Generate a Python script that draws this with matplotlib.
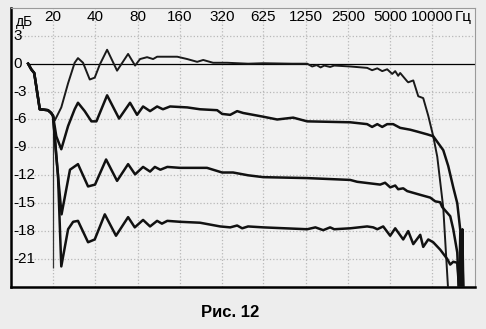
import matplotlib
matplotlib.use("Agg")
import matplotlib.pyplot as plt

plt.rcParams['font.family'] = ['Liberation Sans', 'DejaVu Sans']

# common start of all curves (Hz, dB)
start_f = [13.3, 14.0, 14.7, 16.1, 18.4, 19.4, 20.0]
start_db = [0.0, -0.6, -1.0, -4.9, -5.0, -5.3, -5.6]

# 0 dB curve
t_f = [20.6, 22.9, 25.6, 28.5, 30.1, 32.7, 36.5, 39.6, 43.0, 48.5, 57.1, 68.4, 76.7,
       83.2, 93.3, 103, 110, 130, 153, 180, 212, 234, 275, 346, 488, 625, 1000, 1284,
       1394, 1500, 1600, 1700, 1870, 2000, 2600, 3430, 3720, 4050, 4390, 4760, 5170,
       5430, 5700, 5890, 6610, 6720, 7300, 7920, 8590, 9330, 10120, 10810, 11930, 13000]
t_db = [-6.1, -4.7, -2.1, 0.1, 0.6, 0.1, -1.7, -1.5, -0.1, 1.5, -0.75, 1.05, -0.2,
        0.5, 0.7, 0.5, 0.75, 0.75, 0.75, 0.5, 0.2, 0.4, 0.1, 0.1, 0.0, 0.05, 0.0, 0.0,
        -0.3, -0.15, -0.4, -0.2, -0.35, -0.2, -0.3, -0.45, -0.7, -0.5, -0.8, -0.6, -1.1,
        -0.8, -1.3, -1.0, -1.9, -2.0, -1.8, -3.5, -3.7, -5.6, -7.8, -10.0, -15.5, -25.0]

# -6 dB curve
s_f = [21.1, 22.9, 25.6, 28.5, 30.1, 33.6, 37.5, 40.7, 48.5, 59.0, 70.6, 79.2, 87.4,
       98.0, 110, 121, 136, 180, 222, 294, 319, 364, 408, 450, 625, 786, 1021, 1284,
       2600, 3430, 3720, 4050, 4390, 4760, 5250, 5890, 6950, 7790, 9180, 10120, 11930,
       12940, 14050, 15000, 15760, 16280, 16600]
s_db = [-7.8, -9.2, -6.7, -4.9, -4.2, -5.1, -6.2, -6.2, -3.4, -5.9, -4.2, -5.5, -4.6,
        -5.1, -4.6, -4.9, -4.6, -4.7, -4.9, -5.0, -5.4, -5.5, -5.1, -5.3, -5.7, -6.0, -5.8, -6.2,
        -6.3, -6.5, -6.8, -6.5, -6.8, -6.5, -6.5, -6.9, -7.1, -7.3, -7.6, -7.8, -9.3,
        -11.0, -13.3, -15.0, -17.9, -20.4, -25.0]

# -12 dB curve
u_f = [21.1, 23.0, 26.4, 30.1, 35.5, 39.8, 47.7, 57.1, 68.4, 76.7, 87.4, 98.0, 106,
       116, 130, 160, 249, 319, 382, 488, 625, 1284, 2600, 2914, 4246, 4600, 5004, 5430,
       5700, 6190, 6610, 8180, 9640, 10460, 11350, 11700, 13370, 14050, 15000, 15240, 15400]
u_db = [-10.0, -16.2, -11.4, -10.8, -13.2, -13.0, -10.3, -12.6, -10.8, -11.9, -11.1, -11.6, -11.1,
        -11.4, -11.1, -11.2, -11.2, -11.7, -11.7, -12.0, -12.2, -12.3, -12.5, -12.7, -13.0, -12.8, -13.3, -13.1,
        -13.5, -13.4, -13.7, -14.1, -14.4, -14.8, -14.9, -15.4, -16.4, -17.8, -20.3, -22.5, -25.0]

# -18 dB curve
v_f = [21.7, 22.9, 25.6, 27.8, 30.1, 35.5, 39.6, 46.7, 56.1, 68.4, 76.3, 87.4, 98.0,
       110, 119, 130, 160, 222, 309, 364, 408, 443, 488, 625, 1284, 1470, 1670, 1870,
       2000, 2600, 3430, 3790, 4050, 4460, 5000, 5430, 6190, 6720, 7300, 8180, 8590,
       9330, 10120, 11350, 12730, 13370, 14050, 15000, 15500, 15760, 16000, 16300, 16600]
v_db = [-12.0, -21.8, -17.8, -17.0, -16.9, -19.2, -18.9, -16.2, -18.5, -16.5, -17.6, -16.8, -17.5,
        -16.9, -17.2, -16.9, -17.0, -17.1, -17.5, -17.6, -17.4, -17.7, -17.5, -17.6, -17.8, -17.6, -17.9, -17.6,
        -17.8, -17.7, -17.5, -17.6, -17.8, -17.5, -18.5, -17.7, -18.9, -18.0, -19.4, -18.4, -19.7,
        -18.9, -19.2, -20.0, -21.0, -21.6, -21.3, -21.4, -24.5, -18.2, -24.5, -17.8, -25.0]

freq_ticks = [20, 40, 80, 160, 320, 625, 1250, 2500, 5000, 10000]
db_ticks = [3, 0, -3, -6, -9, -12, -15, -18, -21]

fig = plt.figure(figsize=(4.86, 3.29), dpi=100, facecolor='#ededed')
ax = fig.add_axes([0.022, 0.128, 0.955, 0.848])
ax.set_facecolor('#f1f1f1')
ax.set_xscale('log', base=2)
ax.set_xlim(10, 20000)
ax.set_ylim(-24, 6)
ax.set_xticks([])
ax.set_yticks([])
ax.minorticks_off()

# grid
for f in freq_ticks:
    ax.axvline(f, color='#b8b8b8', ls=':', lw=0.9, zorder=1)
for d in db_ticks:
    if d != 0:
        ax.axhline(d, color='#b8b8b8', ls=':', lw=0.9, zorder=1)
ax.hlines(0, 13.0, 20000, color='black', lw=0.9, zorder=2)
ax.vlines(20, -22, -5.6, color='#333333', lw=0.9, zorder=2)

# curves
ax.plot(start_f + t_f, start_db + t_db, color='#1a1a1a', lw=1.4, zorder=3)
ax.plot(start_f + s_f, start_db + s_db, color='#111111', lw=1.8, zorder=3)
ax.plot(start_f + u_f, start_db + u_db, color='#111111', lw=1.8, zorder=3)
ax.plot(start_f + v_f, start_db + v_db, color='#111111', lw=1.8, zorder=3)

# labels inside the frame
for f in freq_ticks:
    ax.text(f, 5.0, str(f), ha='center', va='center', fontsize=11, zorder=4)
ax.text(14500, 5.0, 'Гц', ha='left', va='center', fontsize=11, zorder=4)
for d in db_ticks:
    ax.text(10.45, d, str(d), ha='left', va='center', fontsize=11, zorder=4)
ax.text(10.9, 4.0, 'дБ', ha='left', va='baseline', fontsize=10, zorder=4)

for side in ['top', 'right']:
    ax.spines[side].set_color('#9a9a9a')
    ax.spines[side].set_linewidth(0.8)
for side in ['left', 'bottom']:
    ax.spines[side].set_color('black')
    ax.spines[side].set_linewidth(1.8)

fig.text(0.473, 0.049, 'Рис. 12', ha='center', va='center', fontsize=12, fontweight='bold')

fig.savefig('out.png', dpi=100, facecolor=fig.get_facecolor())
